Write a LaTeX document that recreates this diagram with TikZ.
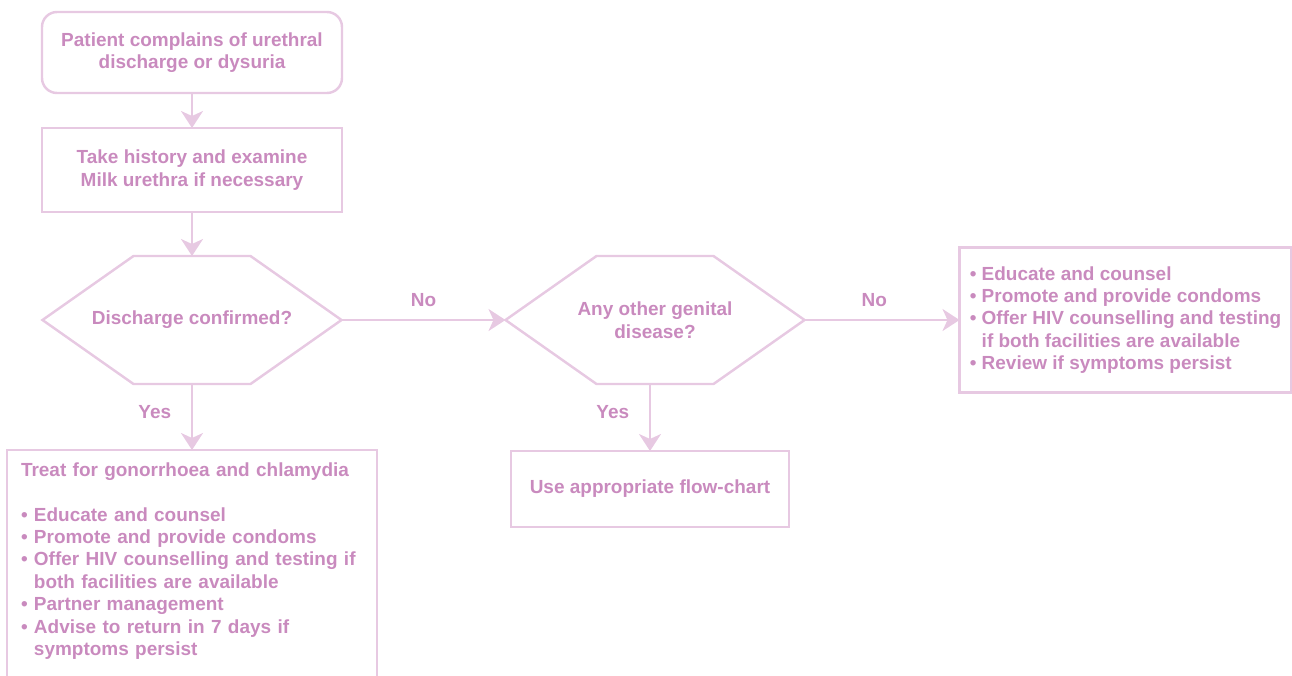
\documentclass[tikz,border=0pt]{standalone}
\usepackage{fontspec}
\setmainfont{Liberation Sans}
\usepackage{tikz}
\usetikzlibrary{arrows.meta, positioning, calc}

\definecolor{linepink}{RGB}{231,201,226}
\definecolor{textpink}{RGB}{201,138,190}

\newcommand{\itm}{\textbullet\ }
\newcommand{\ind}{\phantom{\textbullet\ }}
% hexagon drawn round a decision node
\newcommand{\hexframe}[1]{%
	\draw ([xshift=1.82cm]#1.north west) -- ([xshift=-1.82cm]#1.north east) -- (#1.east)
		-- ([xshift=-1.82cm]#1.south east) -- ([xshift=1.82cm]#1.south west) -- (#1.west) -- cycle;}

\begin{document}
\begin{tikzpicture}[>={Stealth[length=0.34cm,width=0.44cm,inset=0.1cm]},line width=1.4pt,color=linepink,node distance=0.7cm,
	every node/.style={font=\fontsize{10.8}{12.76}\selectfont\bfseries,text=textpink,outer sep=0pt}]
	\tikzset{box/.style={draw,rectangle,minimum width=6cm,align=center},
		decision/.style={rectangle,minimum width=5.98cm,minimum height=2.56cm,align=center}}
	\useasboundingbox (0,0) rectangle (25.84,-13.5);
	\node[box,rounded corners=0.3cm,minimum height=1.62cm] (start) at (3.84,-1.05) {Patient complains of urethral\\discharge or dysuria};
	\node[box,minimum height=1.68cm] (exam) [below=0.7cm of start] {Take history and examine\\Milk urethra if necessary};
	\node[decision] (hex1) [below=0.88cm of exam] {Discharge confirmed?};
	\node[decision] (hex2) [right=3.28cm of hex1] {Any other genital\\disease?};
	\node[box,minimum width=6.64cm,minimum height=2.9cm,align=left] (advice) [right=3.1cm of hex2] {\itm Educate and counsel\\
		\itm Promote and provide condoms\\
		\itm Offer HIV counselling and testing\\
		\ind if both facilities are available\\
		\itm Review if symptoms persist};
	\node[box,minimum width=5.56cm,minimum height=1.52cm] (flow) [below=1.34cm of hex2,xshift=-0.1cm] {Use appropriate flow-chart};
	\node[rectangle,text width=6.84cm,align=left,inner xsep=0.28cm,inner ysep=0.25cm] (treat) [below=1.32cm of hex1] {Treat for gonorrhoea and chlamydia\\[12.76pt]
		\itm Educate and counsel\\
		\itm Promote and provide condoms\\
		\itm Offer HIV counselling and testing if\\
		\ind both facilities are available\\
		\itm Partner management\\
		\itm Advise to return in 7 days if\\
		\ind symptoms persist};
	\hexframe{hex1}
	\hexframe{hex2}
	\draw ([yshift=-1cm]treat.south west) |- (treat.north east) -- ([yshift=-1cm]treat.south east);
	\path[->]
		(start)
			edge (exam)
		(exam)
			edge (hex1)
		(hex1)
			edge node[above=0.14cm] {No} (hex2)
			edge node[left=0.3cm,pos=0.42] {Yes} (treat)
		(hex2)
			edge node[above=0.14cm,pos=0.45] {No} (advice)
		(hex2.south -| flow.north)
			edge node[left=0.3cm,pos=0.42] {Yes} (flow);
\end{tikzpicture}
\end{document}
